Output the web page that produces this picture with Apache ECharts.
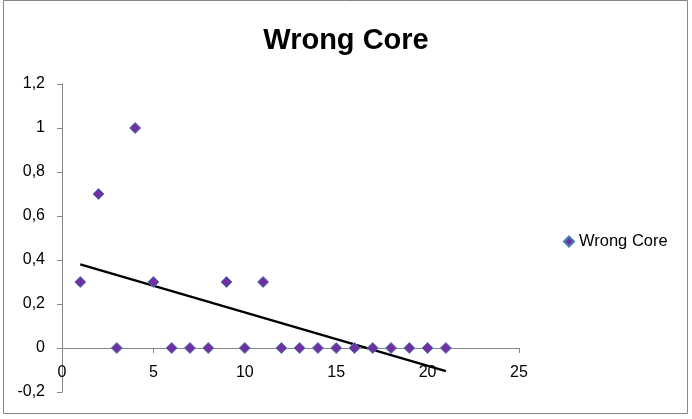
<!DOCTYPE html>
<html><head><meta charset="utf-8">
<script src="https://cdn.jsdelivr.net/npm/echarts@6/dist/echarts.min.js"></script>
<style>html,body{margin:0;padding:0;background:#fff}#c{width:692px;height:419px}</style>
</head><body><div id="c"></div>
<script>
const xValues = [1,2,3,4,5,6,7,8,9,10,11,12,13,14,15,16,17,18,19,20,21];
const yValues = [0.3,0.7,0,1,0.3,0,0,0,0.3,0,0.3,0,0,0,0,0,0,0,0,0,0];
const trendX = [1,21];
const trendY = [0.38,-0.105];
const seriesName = 'Wrong Core';
const titleText = 'Wrong Core';
const yMin = -0.2, yMax = 1.2;

const chart = echarts.init(document.getElementById('c'), null, {renderer:'canvas'});
const font = '"Liberation Sans", Arial, sans-serif';
const axisColor = '#868686';
const gridTop = 84, gridBottom = 27, H = 419;
const plotH = H - gridTop - gridBottom;
const zeroOffset = -Math.round((0 - yMin) / (yMax - yMin) * plotH);
chart.setOption({
  animation:false,
  backgroundColor:'#fff',
  title:{text:titleText,left:'center',top:21,textStyle:{fontFamily:font,fontSize:29,fontWeight:'bold',color:'#000'}},
  legend:{
    data:[{name:seriesName,icon:'diamond'}],
    left:558, top:228, itemWidth:10, itemHeight:10, itemGap:5,
    textStyle:{fontFamily:font,fontSize:16.5,color:'#000'}
  },
  grid:{left:62,right:173,top:gridTop,bottom:gridBottom,containLabel:false,outerBoundsMode:'none'},
  xAxis:{
    type:'value',min:0,max:25,interval:5,position:'bottom',offset:zeroOffset,
    axisLine:{show:true,onZero:false,lineStyle:{color:axisColor,width:1}},
    axisTick:{show:true,inside:false,length:5,lineStyle:{color:axisColor}},
    axisLabel:{margin:17,fontFamily:font,fontSize:16,color:'#000'},
    splitLine:{show:false}
  },
  yAxis:{
    type:'value',min:yMin,max:yMax,interval:0.2,
    axisLine:{show:true,onZero:false,lineStyle:{color:axisColor,width:1}},
    axisTick:{show:true,inside:false,length:5,lineStyle:{color:axisColor}},
    axisLabel:{margin:17,fontFamily:font,fontSize:16,color:'#000',
      formatter:v=>String(parseFloat(v.toFixed(1))).replace('.',',')},
    splitLine:{show:false}
  },
  graphic:[{type:'rect',shape:{x:3.5,y:0.5,width:684,height:413},style:{fill:'none',stroke:'#868686',lineWidth:1},silent:true,z:-1}],
  series:[
    {name:'trend',type:'line',data:trendX.map((x,i)=>[x,trendY[i]]),symbol:'none',
     lineStyle:{color:'#000',width:2.5},z:1,legendHoverLink:false},
    {name:seriesName,type:'scatter',data:xValues.map((x,i)=>[x,yValues[i]]),symbol:'diamond',symbolSize:11,
     itemStyle:{color:'#7030A0',borderColor:'#4A7EBB',borderWidth:1,opacity:1},z:3}
  ]
});
</script></body></html>
